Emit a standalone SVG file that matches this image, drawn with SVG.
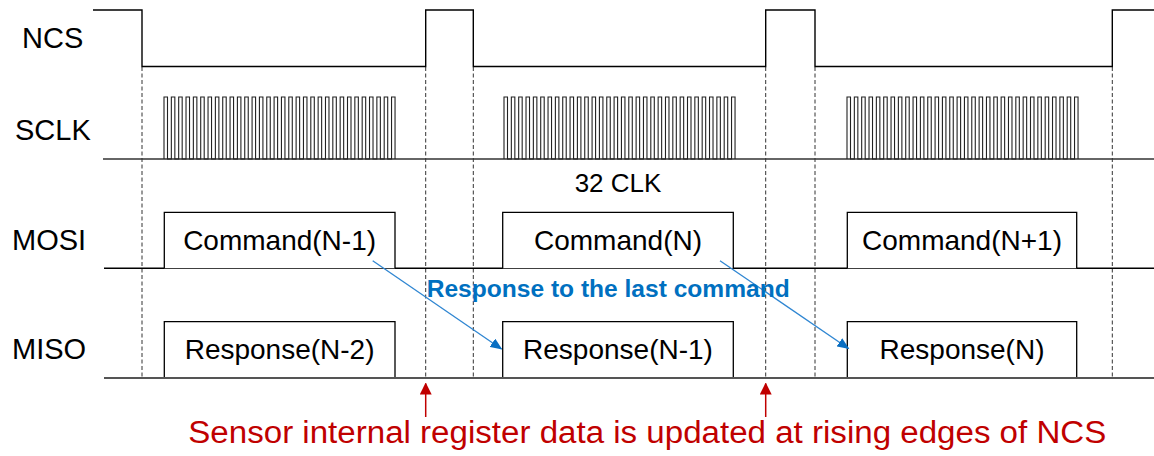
<svg xmlns="http://www.w3.org/2000/svg" xmlns:xlink="http://www.w3.org/1999/xlink" width="1154" height="456" viewBox="0 0 1154 456">
<style>
.wave{fill:none;stroke:#000;stroke-width:1.4}
.base{fill:none;stroke:#333;stroke-width:1.6}
.clk{fill:none;stroke:#222;stroke-width:1.1}
.box{fill:#fff;stroke:#000;stroke-width:1.3}
.dash{fill:none;stroke:#333;stroke-width:1;stroke-dasharray:4 2.5}
.lbl{font-family:"Liberation Sans",Arial,sans-serif;font-size:29px;fill:#000}
.txt{font-family:"Liberation Sans",Arial,sans-serif;font-size:28px;fill:#000;text-anchor:middle}
.blue{fill:none;stroke:#2F86D2;stroke-width:1.3}
.red{fill:none;stroke:#C00000;stroke-width:1.5}
</style>
<defs>
<marker id="ab" viewBox="0 0 12 10" refX="11" refY="5" markerWidth="12" markerHeight="10" markerUnits="userSpaceOnUse" orient="auto">
<path d="M0,0 L12,5 L0,10 Z" fill="#0A6FC2"/>
</marker>
<marker id="ar" viewBox="0 0 12 12" refX="11" refY="6" markerWidth="12" markerHeight="12" markerUnits="userSpaceOnUse" orient="auto">
<path d="M0,0 L12,6 L0,12 Z" fill="#C00000"/>
</marker>
<path id="burst" class="clk" d="M0,159
v-62h3.5v62h3.84v-62h3.5v62h3.84v-62h3.5v62h3.84v-62h3.5v62h3.84v-62h3.5v62h3.84v-62h3.5v62h3.84v-62h3.5v62h3.84v-62h3.5v62h3.84
v-62h3.5v62h3.84v-62h3.5v62h3.84v-62h3.5v62h3.84v-62h3.5v62h3.84v-62h3.5v62h3.84v-62h3.5v62h3.84v-62h3.5v62h3.84v-62h3.5v62h3.84
v-62h3.5v62h3.84v-62h3.5v62h3.84v-62h3.5v62h3.84v-62h3.5v62h3.84v-62h3.5v62h3.84v-62h3.5v62h3.84v-62h3.5v62h3.84v-62h3.5v62h3.84
v-62h3.5v62h3.84v-62h3.5v62h3.84v-62h3.5v62h3.84v-62h3.5v62h3.84v-62h3.5v62h3.84v-62h3.5v62h3.84v-62h3.5v62h3.84v-62h3.5v62"/>
</defs>
<rect width="1154" height="456" fill="#fff"/>

<g id="guides">
<path class="dash" d="M142,67V379M425.7,67V379M473.3,67V379M765.7,67V379M815,67V379M1112.3,67V379"/>
</g>

<g id="ncs">
<text class="lbl" x="22" y="48">NCS</text>
<path class="wave" d="M93,10H142V66.5H425.7V10H473.3V66.5H765.7V10H815V66.5H1112.3V10H1154"/>
</g>

<g id="sclk">
<text class="lbl" x="15" y="140">SCLK</text>
<path class="base" d="M103,159H1154"/>
<use xlink:href="#burst" x="164"/>
<use xlink:href="#burst" x="504"/>
<use xlink:href="#burst" x="847"/>
<text class="txt" x="618" y="192" style="font-size:26px">32 CLK</text>
</g>

<g id="mosi">
<text class="lbl" x="12" y="250">MOSI</text>
<path class="base" d="M104,268.3H1154" style="stroke:#000"/>
<path class="box" d="M164.3,268.3V212.3H395V268.3"/>
<path class="box" d="M502.7,268.3V212.3H733.3V268.3"/>
<path class="box" d="M847.3,268.3V212.3H1076.7V268.3"/>
<text class="txt" x="279.6" y="250">Command(N-1)</text>
<text class="txt" x="618" y="250">Command(N)</text>
<text class="txt" x="962" y="250">Command(N+1)</text>
</g>

<g id="miso">
<text class="lbl" x="12" y="359">MISO</text>
<path class="box" d="M164.3,378V321.7H395V378"/>
<path class="box" d="M502.7,378V321.7H733.3V378"/>
<path class="box" d="M847.3,378V321.7H1076.7V378"/>
<path class="base" d="M104,378H1154" style="stroke:#555;stroke-width:1.8"/>
<text class="txt" x="279.6" y="359">Response(N-2)</text>
<text class="txt" x="618" y="359">Response(N-1)</text>
<text class="txt" x="962" y="359">Response(N)</text>
</g>

<g id="connectors">
<path class="blue" d="M372.7,260.7L501.5,349" marker-end="url(#ab)"/>
<path class="blue" d="M720,260.7L848.5,348.5" marker-end="url(#ab)"/>
<path class="red" d="M425.7,417V383.5" marker-end="url(#ar)"/>
<path class="red" d="M765.7,417V383.5" marker-end="url(#ar)"/>
</g>

<g id="annotations">
<text x="426.7" y="296.7" textLength="363" lengthAdjust="spacingAndGlyphs" style="font-family:'Liberation Sans',Arial,sans-serif;font-weight:bold;font-size:23px;fill:#0070C0">Response to the last command</text>
<text x="188.3" y="443.3" textLength="918" lengthAdjust="spacingAndGlyphs" style="font-family:'Liberation Sans',Arial,sans-serif;font-size:31px;fill:#C00000">Sensor internal register data is updated at rising edges of NCS</text>
</g>
</svg>
